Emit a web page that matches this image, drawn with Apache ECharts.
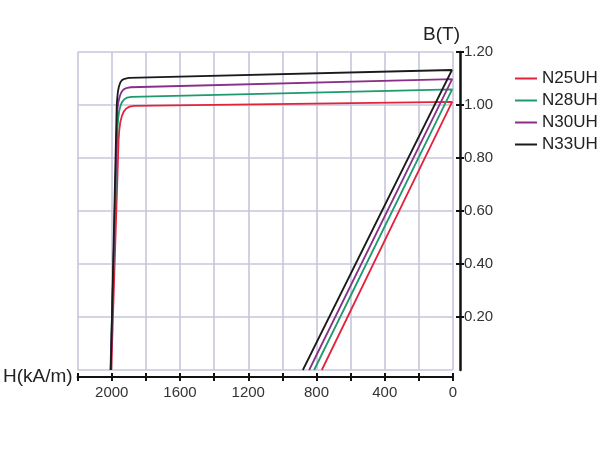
<!DOCTYPE html>
<html>
<head>
<meta charset="utf-8">
<script src="https://cdn.jsdelivr.net/npm/echarts@6/dist/echarts.min.js"></script>
<style>
html,body{margin:0;padding:0;background:#fff;}
#chart{width:600px;height:450px;}
</style>
</head>
<body>
<div id="chart"></div>
<script>
// Series names
var seriesNames = ['N25UH', 'N28UH', 'N30UH', 'N33UH'];
// Each curve: normal line (Hcb,0) -> (≈0,Br), then intrinsic flat part, knee, down to Hcj
var n25H = [769, 5, 1870, 1895, 1915, 1930, 1941, 1950, 1956, 1960, 2003];
var n25B = [0, 1.012, 0.997, 0.994, 0.987, 0.975, 0.958, 0.935, 0.905, 0.87, 0];
var n28H = [814, 5, 1885, 1910, 1928, 1941, 1950, 1957, 1962, 1966, 2008];
var n28B = [0, 1.059, 1.031, 1.028, 1.021, 1.010, 0.995, 0.975, 0.95, 0.92, 0];
var n30H = [843, 5, 1890, 1915, 1932, 1944, 1953, 1960, 1965, 1968, 2006];
var n30B = [0, 1.098, 1.067, 1.064, 1.058, 1.048, 1.033, 1.015, 0.995, 0.97, 0];
var n33H = [880, 6, 1900, 1925, 1940, 1950, 1958, 1964, 1968, 1971, 2006];
var n33B = [0, 1.132, 1.102, 1.099, 1.094, 1.085, 1.070, 1.05, 1.025, 1.0, 0];
// Tick labels
var xTickLabels = [0, 400, 800, 1200, 1600, 2000];
var yTickLabels = [0.2, 0.4, 0.6, 0.8, 1.0, 1.2];
var colors = ['#e5223b', '#1c9b6c', '#8b2f86', '#1a1a1a'];

function zip(h, b) { return h.map(function (v, i) { return [v, b[i]]; }); }
var curves = [zip(n25H, n25B), zip(n28H, n28B), zip(n30H, n30B), zip(n33H, n33B)];

var font = "'Liberation Sans', Arial, Helvetica, sans-serif";
var gridColor = '#c6c6dc';
var xTickVals = [];
for (var t = 0; t <= 2200; t += 200) xTickVals.push(t);

var chart = echarts.init(document.getElementById('chart'), null, {renderer: 'canvas'});
chart.setOption({
  backgroundColor: '#fff',
  animation: false,
  textStyle: {fontFamily: font},
  grid: {left: 77, right: 147, top: 52, bottom: 80, containLabel: false},
  legend: {
    orient: 'vertical', left: 510, top: 65,
    itemWidth: 22, itemHeight: 16, itemGap: 5,
    icon: 'path://M0 0 H22 V2 H0 Z',
    symbolKeepAspect: true,
    data: seriesNames,
    textStyle: {fontSize: 17, color: '#222', fontFamily: font, lineHeight: 16}
  },
  xAxis: [
    {
      type: 'value', position: 'bottom', offset: 7, inverse: true,
      min: 0, max: 2200, interval: 200,
      name: 'H(kA/m)', nameLocation: 'end', nameGap: 5,
      nameTextStyle: {fontSize: 19, color: '#222', fontFamily: font},
      axisLine: {show: true, onZero: false, lineStyle: {color: '#111', width: 2}},
      axisTick: {show: true, inside: false, length: 4, customValues: xTickVals, lineStyle: {color: '#111', width: 2}},
      axisLabel: {show: true, margin: 8, fontSize: 15, color: '#333', fontFamily: font, customValues: xTickLabels,
        formatter: function (v) { return String(v); }},
      splitLine: {show: false}
    },
    {
      type: 'value', position: 'bottom', offset: 7, inverse: true,
      min: 0, max: 2200, interval: 200,
      axisLine: {show: false, onZero: false},
      axisTick: {show: true, inside: true, length: 4, customValues: xTickVals, lineStyle: {color: '#111', width: 2}},
      axisLabel: {show: false},
      splitLine: {show: false}
    },
    {
      type: 'value', position: 'bottom', offset: 0, inverse: true,
      min: 0, max: 2200, interval: 200,
      axisLine: {show: false, onZero: false},
      axisTick: {show: false},
      axisLabel: {show: false},
      splitLine: {show: true, lineStyle: {color: gridColor, width: 1.6}}
    }
  ],
  yAxis: [
    {
      type: 'value', position: 'right', offset: 7,
      min: 0, max: 1.2, interval: 0.2,
      name: 'B(T)', nameLocation: 'end', nameGap: 5,
      nameTextStyle: {fontSize: 19, color: '#222', fontFamily: font, align: 'right'},
      axisLine: {show: true, onZero: false, lineStyle: {color: '#111', width: 2.5}},
      axisTick: {show: true, inside: false, length: 4, customValues: yTickLabels, lineStyle: {color: '#111', width: 2}},
      axisLabel: {show: true, margin: 4, fontSize: 15, color: '#333', fontFamily: font, customValues: yTickLabels,
        formatter: function (v) { return v.toFixed(2); }},
      splitLine: {show: false}
    },
    {
      type: 'value', position: 'right', offset: 7,
      min: 0, max: 1.2, interval: 0.2,
      axisLine: {show: false, onZero: false},
      axisTick: {show: true, inside: true, length: 4, customValues: yTickLabels, lineStyle: {color: '#111', width: 2}},
      axisLabel: {show: false},
      splitLine: {show: false}
    },
    {
      type: 'value', position: 'right', offset: 0,
      min: 0, max: 1.2, interval: 0.2,
      axisLine: {show: false, onZero: false},
      axisTick: {show: false},
      axisLabel: {show: false},
      splitLine: {show: true, lineStyle: {color: gridColor, width: 1.6}}
    }
  ],
  series: seriesNames.map(function (name, i) {
    return {
      name: name, type: 'line', xAxisIndex: 0, yAxisIndex: 0,
      data: curves[i], symbol: 'none', smooth: false,
      lineStyle: {color: colors[i], width: 1.8},
      itemStyle: {color: colors[i]},
      z: 3 + i
    };
  })
});
</script>
</body>
</html>
